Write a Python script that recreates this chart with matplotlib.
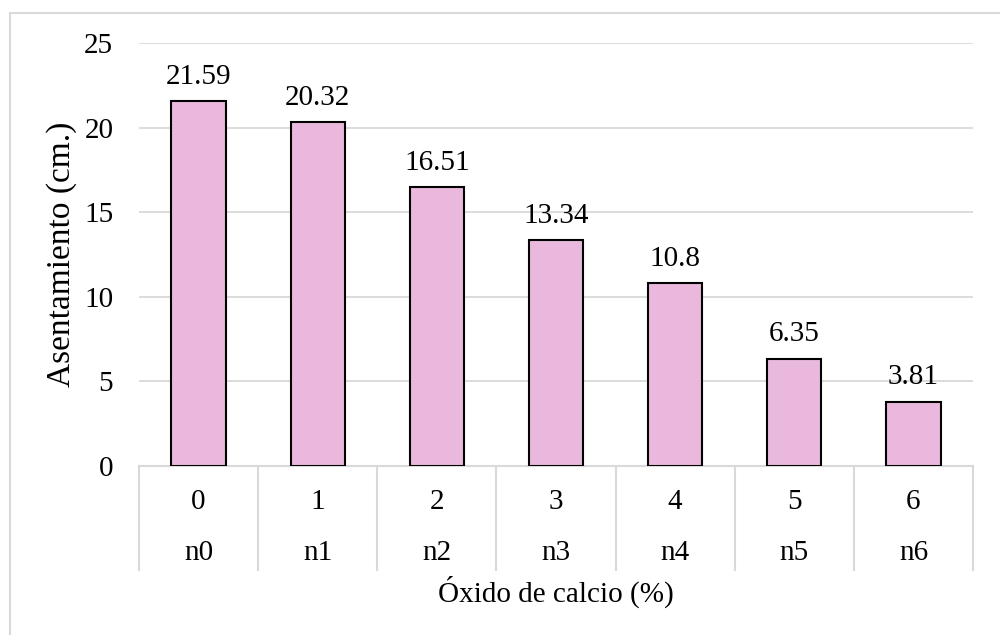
import matplotlib
matplotlib.use("Agg")
import matplotlib.pyplot as plt
from matplotlib.patches import Rectangle
import matplotlib.transforms as mtransforms

categories_top = ["0", "1", "2", "3", "4", "5", "6"]
categories_bottom = ["n0", "n1", "n2", "n3", "n4", "n5", "n6"]
values = [21.59, 20.32, 16.51, 13.34, 10.8, 6.35, 3.81]
value_labels = ["21.59", "20.32", "16.51", "13.34", "10.8", "6.35", "3.81"]
yticks = [0, 5, 10, 15, 20, 25]

plt.rcParams['font.family'] = ['Liberation Serif', 'DejaVu Serif']
FS = 21

fig = plt.figure(figsize=(10, 6.35), dpi=100)
fig.patches.append(Rectangle((10/1000, -0.1), 1.2, 1 - 13/635 + 0.1, transform=fig.transFigure,
                             fill=False, edgecolor='#D9D9D9', linewidth=1.5))

ax = fig.add_axes([0.139, 0.2661, 0.834, 0.6662])
x = list(range(len(values)))
ax.bar(x, values, width=0.455, color='#EBB8DD', edgecolor='black', linewidth=1.5, zorder=3)
ax.set_xlim(-0.5, len(values) - 0.5)
ax.set_ylim(0, 25)
ax.set_yticks(yticks)
ax.set_yticklabels([str(t) for t in yticks], fontsize=FS)
ax.tick_params(axis='y', length=0, pad=18.5)
ax.set_xticks([])
ax.grid(axis='y', color='#D9D9D9', linewidth=1.3, zorder=0)
for s in ['left', 'right', 'top']:
    ax.spines[s].set_visible(False)
ax.spines['bottom'].set_color('#D9D9D9')
ax.spines['bottom'].set_linewidth(1.5)

for xi, v, lab in zip(x, values, value_labels):
    ax.annotate(lab, (xi, v), xytext=(0, 8), textcoords='offset points',
                ha='center', va='bottom', fontsize=FS)

trans = mtransforms.blended_transform_factory(ax.transData, ax.transAxes)
for b in range(len(values) + 1):
    ax.plot([b - 0.5, b - 0.5], [0, -0.246], transform=trans, color='#D9D9D9',
            linewidth=1.5, clip_on=False)
for xi, t1, t2 in zip(x, categories_top, categories_bottom):
    ax.text(xi, -0.085, t1, transform=trans, ha='center', va='center', fontsize=FS)
    ax.text(xi, -0.206, t2, transform=trans, ha='center', va='center', fontsize=FS)

ax.text(0.5, -0.298, "Óxido de calcio (%)", transform=ax.transAxes, ha='center',
        va='center', fontsize=FS)
fig.text(0.062, 1 - 254/635, "Asentamiento (cm.)", rotation=90, ha='center',
         va='center', fontsize=24)

fig.savefig("out.png", dpi=100)
